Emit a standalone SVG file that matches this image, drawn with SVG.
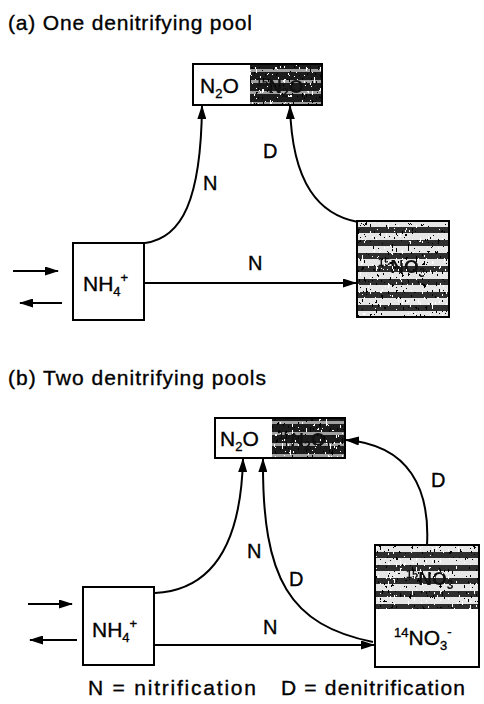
<svg xmlns="http://www.w3.org/2000/svg" width="484" height="704" viewBox="0 0 484 704">
<defs>
<style>
text{font-family:"Liberation Sans",Arial,sans-serif;fill:#000;stroke:#000;stroke-width:0.35}
.t{font-size:21px}
.lg{font-size:21px}
.lab{font-size:20px}
.in{font-size:21px}
.box{fill:#fff;stroke:#000;stroke-width:2}
.edge{fill:none;stroke:#000;stroke-width:2}
.hid{font-size:19px;fill:#111;font-weight:bold;stroke:none}
</style>
<marker id="ah" viewBox="0 0 14 9" refX="13" refY="4.5" markerWidth="14" markerHeight="9" markerUnits="userSpaceOnUse" orient="auto">
<path d="M0,0 L14,4.5 L0,9 Z" fill="#000"/>
</marker>
<pattern id="stripes" width="12" height="13" patternUnits="userSpaceOnUse">
<rect width="12" height="13" fill="#e6e6e6"/>
<rect y="6" width="12" height="6" fill="#2e2e2e"/>
</pattern>
<pattern id="dark" width="12" height="11" patternUnits="userSpaceOnUse">
<rect width="12" height="11" fill="#1c1c1c"/>
<rect y="3" width="12" height="3" fill="#a0a0a0"/>
</pattern>
<filter id="speck" x="0" y="0" width="100%" height="100%" color-interpolation-filters="sRGB">
<feTurbulence type="fractalNoise" baseFrequency="0.5 0.18" numOctaves="2" seed="7" result="n"/>
<feColorMatrix in="n" type="matrix" values="1 0 0 0 0  1 0 0 0 0  1 0 0 0 0  0 0 0 0 1" result="g"/>
<feComponentTransfer in="g" result="b">
<feFuncR type="discrete" tableValues="0 0 0 1 1 1 1 1 1 1"/>
<feFuncG type="discrete" tableValues="0 0 0 1 1 1 1 1 1 1"/>
<feFuncB type="discrete" tableValues="0 0 0 1 1 1 1 1 1 1"/>
</feComponentTransfer>
<feComponentTransfer in="g" result="w">
<feFuncR type="discrete" tableValues="0 0 0 0 0 0 0 1 1 1"/>
<feFuncG type="discrete" tableValues="0 0 0 0 0 0 0 1 1 1"/>
<feFuncB type="discrete" tableValues="0 0 0 0 0 0 0 1 1 1"/>
</feComponentTransfer>
<feBlend in="SourceGraphic" in2="b" mode="multiply" result="s1"/>
<feBlend in="s1" in2="w" mode="screen"/>
</filter>
</defs>

<text class="t" x="8" y="30" textLength="244">(a) One denitrifying pool</text>
<text class="t" x="8" y="385" textLength="258">(b) Two denitrifying pools</text>
<text class="lg" x="88" y="695" textLength="168">N = nitrification</text>
<text class="lg" x="281" y="695" textLength="184">D = denitrification</text>

<g id="a-n2o">
<rect class="box" x="193" y="64" width="129" height="41"/>
<g filter="url(#speck)">
<rect x="250" y="65" width="71" height="39" fill="url(#dark)"/>
<text class="hid" x="256" y="93"><tspan font-size="11" dy="-7">15</tspan><tspan dy="7">N</tspan><tspan font-size="12" dy="4">2</tspan><tspan dy="-4">O</tspan></text>
</g>
<text class="in" x="200" y="93">N<tspan font-size="13" dy="5">2</tspan><tspan dy="-5">O</tspan></text>
</g>

<g id="a-nh4">
<rect class="box" x="73" y="243" width="71" height="77"/>
<text class="in" x="83" y="291">NH<tspan font-size="13" dy="5">4</tspan><tspan font-size="13" dy="-14">+</tspan></text>
</g>

<g id="a-no3">
<rect class="box" x="357" y="221" width="92" height="96"/>
<g filter="url(#speck)">
<rect x="358" y="222" width="90" height="94" fill="url(#stripes)"/>
<text class="hid" x="378" y="273"><tspan font-size="11" dy="-7">15</tspan><tspan dy="7">NO</tspan><tspan font-size="12" dy="4">3</tspan></text>
</g>
</g>

<g id="b-n2o">
<rect class="box" x="215" y="418" width="130" height="40"/>
<g filter="url(#speck)">
<rect x="272" y="419" width="72" height="38" fill="url(#dark)"/>
<text class="hid" x="278" y="446"><tspan font-size="11" dy="-7">15</tspan><tspan dy="7">N</tspan><tspan font-size="12" dy="4">2</tspan><tspan dy="-4">O</tspan></text>
</g>
<text class="in" x="220" y="446">N<tspan font-size="13" dy="5">2</tspan><tspan dy="-5">O</tspan></text>
</g>

<g id="b-nh4">
<rect class="box" x="83" y="587" width="71" height="78"/>
<text class="in" x="92" y="637">NH<tspan font-size="13" dy="5">4</tspan><tspan font-size="13" dy="-14">+</tspan></text>
</g>

<g id="b-no3">
<rect class="box" x="375" y="545" width="104" height="122"/>
<g filter="url(#speck)">
<rect x="376" y="546" width="102" height="63" fill="url(#stripes)"/>
<text class="hid" x="406" y="585"><tspan font-size="11" dy="-7">15</tspan><tspan dy="7">NO</tspan><tspan font-size="12" dy="4">3</tspan></text>
</g>
<text class="in" x="394" y="645"><tspan font-size="13" dy="-8">14</tspan><tspan dy="8">NO</tspan><tspan font-size="13" dy="5">3</tspan><tspan font-size="13" dy="-14">-</tspan></text>
</g>

<g id="connectors">
<path class="edge" d="M13,271 H58" marker-end="url(#ah)"/>
<path class="edge" d="M62,303 H20" marker-end="url(#ah)"/>
<path class="edge" d="M145,283 H356" marker-end="url(#ah)"/>
<path class="edge" d="M145,243 C182,238 201,200 202,106" marker-end="url(#ah)"/>
<path class="edge" d="M358,222 C320,215 292,185 290,106" marker-end="url(#ah)"/>

<path class="edge" d="M28,604 H72" marker-end="url(#ah)"/>
<path class="edge" d="M77,640 H30" marker-end="url(#ah)"/>
<path class="edge" d="M155,645 H374" marker-end="url(#ah)"/>
<path class="edge" d="M155,593 C215,590 241,540 243,459" marker-end="url(#ah)"/>
<path class="edge" d="M373,642 C290,625 262,580 263,459" marker-end="url(#ah)"/>
<path class="edge" d="M427,545 C430,490 410,445 346,440" marker-end="url(#ah)"/>
</g>

<g id="labels">
<text class="lab" x="203" y="190">N</text>
<text class="lab" x="263" y="158">D</text>
<text class="lab" x="248" y="270">N</text>
<text class="lab" x="247" y="558">N</text>
<text class="lab" x="289" y="586">D</text>
<text class="lab" x="263" y="634">N</text>
<text class="lab" x="431" y="487">D</text>
</g>
</svg>
